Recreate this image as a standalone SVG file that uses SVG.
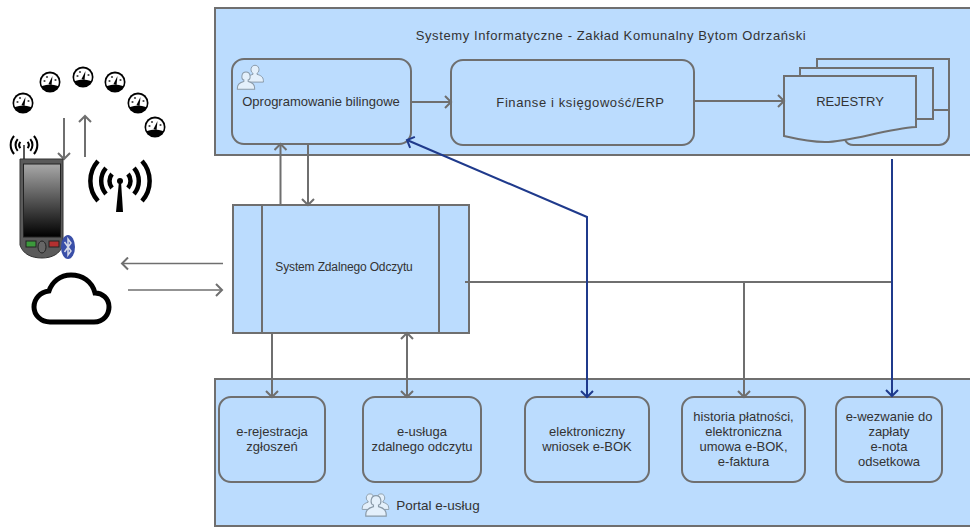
<svg xmlns="http://www.w3.org/2000/svg" width="970" height="527" viewBox="0 0 970 527">
<style>
.c{fill:#bbdcfe;stroke:#6f6f6f;stroke-width:2}
.b{fill:#bbdcfe;stroke:#6f6f6f;stroke-width:2}
.t{font-family:"Liberation Sans",Arial,sans-serif;font-size:13px;fill:#333;text-anchor:middle}
.w{letter-spacing:.6px}
.g{fill:none;stroke:#6f6f6f;stroke-width:2}
.gt{fill:none;stroke:#6f6f6f;stroke-width:1.5}
.bl{fill:none;stroke:#1f3a8c;stroke-width:2}
.p{fill:#e4f0fb;stroke:#8a9aa8;stroke-width:1.4}
</style>
<defs>
<marker id="ag" markerWidth="14" markerHeight="14" refX="9" refY="7" orient="auto-start-reverse" markerUnits="userSpaceOnUse"><path d="M3 1 L9 7 L3 13" fill="none" stroke="#6f6f6f" stroke-width="2"/></marker>
<marker id="ab" markerWidth="14" markerHeight="14" refX="9" refY="7" orient="auto-start-reverse" markerUnits="userSpaceOnUse"><path d="M3 1 L9 7 L3 13" fill="none" stroke="#1f3a8c" stroke-width="2"/></marker>
<linearGradient id="scr" x1="0" y1="0" x2="0" y2="1"><stop offset="0" stop-color="#a8a8a8"/><stop offset="1" stop-color="#000"/></linearGradient>
<g id="gauge"><circle r="10.5" fill="#000"/><path d="M-8 4 A8.800 8.800 0 1 1 8 4 Q0 1 -8 4Z" fill="#fff"/><path d="M-1.500 2 L2.500 -6 L1.500 3Z" fill="#000"/><circle cx="-5.500" cy="-1" r="1.100" fill="#444"/><circle cx="-3" cy="-5" r="1.100" fill="#444"/><circle cx="5.500" cy="-2" r="1.100" fill="#444"/></g>
<g id="person"><path d="M-3 0 C-7 -1 -7 -11 0 -11 C7 -11 7 -1 3 0 V2 C7 3 12 5 12 11 V13 H-12 V11 C-12 5 -7 3 -3 2Z"/></g>
<g id="wifi" fill="none" stroke="#000" stroke-width="4.500"><path d="M-8 -7 A11 11 0 0 0 -8 7 M8 -7 A11 11 0 0 1 8 7"/><path d="M-14 -13 A20 20 0 0 0 -14 13 M14 -13 A20 20 0 0 1 14 13"/><path d="M-22 -20 A30 30 0 0 0 -22 20 M22 -20 A30 30 0 0 1 22 20"/></g>
</defs>

<g id="sys"><rect class="c" x="215" y="8" width="770" height="147"/><text class="t w" x="611" y="40">Systemy Informatyczne - Zakład Komunalny Bytom Odrzański</text></g>
<g id="portal"><rect class="c" x="215" y="379" width="770" height="147"/>
<use href="#person" class="p" transform="translate(370 501) scale(.65)"/><use href="#person" class="p" transform="translate(381 501) scale(.65)"/><use href="#person" class="p" transform="translate(376 505) scale(.85)"/>
<text class="t" x="438" y="510" style="font-size:13.500px">Portal e-usług</text></g>

<g id="bilingowe"><rect class="b" x="232" y="59" width="179" height="85" rx="12"/>
<use href="#person" class="p" transform="translate(255 73) scale(.7)"/><use href="#person" class="p" transform="translate(246 80) scale(.72)"/>
<text class="t" x="321" y="106">Oprogramowanie bilingowe</text></g>
<g id="finanse"><rect class="b" x="451" y="60" width="243" height="85" rx="12"/><text class="t w" x="580.500" y="107">Finanse i księgowość/ERP</text></g>
<g id="rejestry">
<path class="b" d="M817 68 V59 H949 V135 A10 10 0 0 1 939 145 H855 A10 10 0 0 1 845 140" />
<path class="g" d="M933 110 H949"/>
<rect class="b" x="800" y="68" width="133" height="51"/>
<path class="b" d="M784 76 H916 V127 C885 129 850 142 825 142 C810 142 797 139 784 136Z"/>
<text class="t" x="850" y="106">REJESTRY</text></g>
<g id="szo"><rect class="b" x="233" y="205" width="236" height="128"/><path class="g" d="M262 205 V333 M439 205 V333"/><text class="t" x="344" y="271" style="font-size:12px;letter-spacing:-.15px">System Zdalnego Odczytu</text></g>

<g id="b1"><rect class="b" x="219" y="397" width="106" height="85" rx="12"/><text class="t" x="272" y="436">e-rejestracja</text><text class="t" x="272" y="451">zgłoszeń</text></g>
<g id="b2"><rect class="b" x="363" y="397" width="118" height="85" rx="12"/><text class="t" x="422" y="436">e-usługa</text><text class="t" x="422" y="451">zdalnego odczytu</text></g>
<g id="b3"><rect class="b" x="525" y="397" width="124" height="85" rx="12"/><text class="t" x="587" y="436">elektroniczny</text><text class="t" x="587" y="451">wniosek e-BOK</text></g>
<g id="b4"><rect class="b" x="682" y="397" width="123" height="85" rx="12"/><text class="t" x="743.500" y="421">historia płatności,</text><text class="t" x="743.500" y="436">elektroniczna</text><text class="t" x="743.500" y="451">umowa e-BOK,</text><text class="t" x="743.500" y="466">e-faktura</text></g>
<g id="b5"><rect class="b" x="836" y="397" width="106" height="85" rx="12"/><text class="t" x="889" y="421">e-wezwanie do</text><text class="t" x="889" y="436">zapłaty</text><text class="t" x="889" y="451">e-nota</text><text class="t" x="889" y="466">odsetkowa</text></g>

<g id="connectors">
<path class="g" d="M411 102 H451" marker-end="url(#ag)"/>
<path class="g" d="M694 101 H784" marker-end="url(#ag)"/>
<path class="g" d="M280.500 205 V144" marker-end="url(#ag)"/>
<path class="g" d="M308 144 V205" marker-end="url(#ag)"/>
<path class="g" d="M272 333 V397" marker-end="url(#ag)"/>
<path class="g" d="M407 333 V397" marker-start="url(#ag)" marker-end="url(#ag)"/>
<path class="g" d="M465 282 H892"/>
<path class="g" d="M744 282 V397" marker-end="url(#ag)"/>
<path class="bl" d="M407 140 L587 217 V397" marker-start="url(#ab)" marker-end="url(#ab)"/>
<path class="bl" d="M892 159 V396" marker-end="url(#ab)"/>
<path class="g" d="M64 118 V159" marker-end="url(#ag)"/>
<path class="g" d="M85 157 V116" marker-end="url(#ag)"/>
<path class="gt" d="M223 263.500 H122" marker-end="url(#ag)"/>
<path class="gt" d="M128 290 H222" marker-end="url(#ag)"/>
</g>

<g id="meters">
<use href="#gauge" x="23" y="103"/><use href="#gauge" x="50" y="82"/><use href="#gauge" x="83" y="77"/><use href="#gauge" x="115" y="82"/><use href="#gauge" x="138" y="103"/><use href="#gauge" x="155" y="127"/>
</g>
<g id="phone">
<path d="M20 159 H63 V245 C60 254 52 258 42 258 C31 258 23 254 20 245Z" fill="#5a5a5a" stroke="#333"/>
<rect x="23.500" y="164" width="37" height="73" fill="url(#scr)" stroke="#222"/>
<rect x="26" y="241" width="10" height="6" fill="#3c9a3c" stroke="#222"/>
<rect x="49" y="241" width="10" height="6" fill="#b33030" stroke="#222"/>
<ellipse cx="42" cy="247" rx="4" ry="6" fill="#666" stroke="#222"/>
<path d="M24 145 V159" stroke="#222" stroke-width="1.500"/>
<use href="#wifi" transform="translate(24 145) scale(.45)"/>
<ellipse cx="68" cy="247" rx="7" ry="12" fill="#3a4fa8"/>
<path d="M64.500 242 L71 251 L68 255 V239 L71 243 L64.500 252" fill="none" stroke="#d5d9e8" stroke-width="1.500"/>
</g>
<g id="antenna"><use href="#wifi" transform="translate(120 181)"/><circle cx="120" cy="181" r="3" fill="#000"/><path d="M119 181 L116 212 H123 L121 181Z" fill="#000"/></g>
<g id="cloud"><path d="M50 322 H94 C104 322 109 314 109 307 C109 298 102 293 95 293 C92 281 82 275 71 275 C60 275 52 282 49 291 C40 292 34 299 34 307 C34 315 41 322 50 322Z" fill="#fff" stroke="#000" stroke-width="5"/></g>
</svg>
